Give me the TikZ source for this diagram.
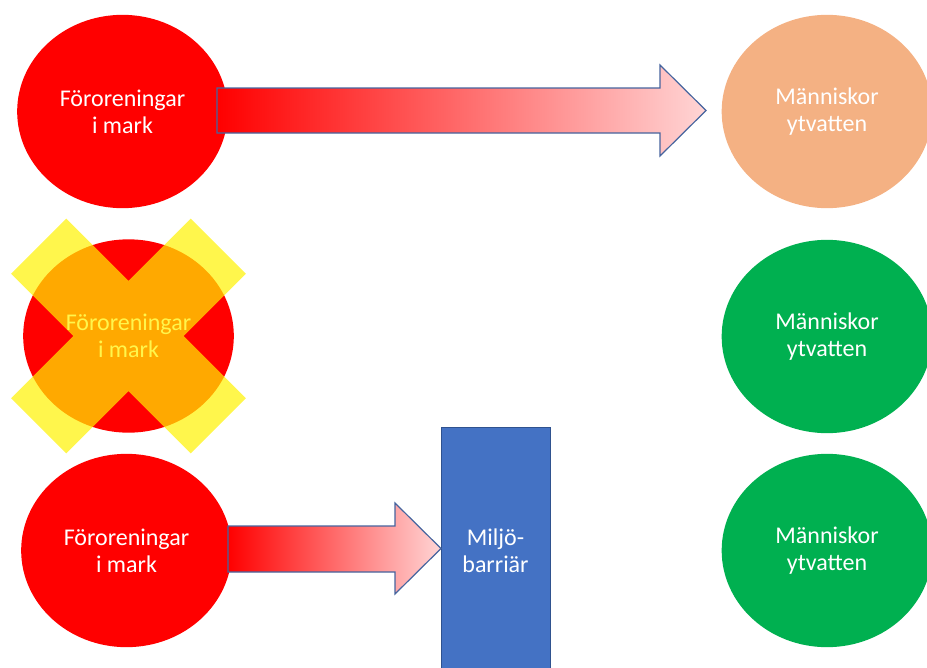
\documentclass[tikz,border=0pt]{standalone}
\usepackage{fontspec}
\setmainfont{Carlito}
\usetikzlibrary{shapes.geometric}
\definecolor{pptred}{RGB}{255,0,0}
\definecolor{pptorange}{RGB}{244,177,131}
\definecolor{pptgreen}{RGB}{0,176,80}
\definecolor{pptblue}{RGB}{68,114,196}
\definecolor{pptblueline}{RGB}{47,82,143}
\definecolor{arrowline}{RGB}{70,100,158}
\definecolor{palepink}{RGB}{255,213,213}
\begin{document}
\begin{tikzpicture}[x=0.75pt,y=-0.75pt,
  blob/.style={ellipse, minimum width=158pt, minimum height=145pt, inner sep=0pt,
    text=white, align=center, font=\fontsize{18}{20.5}\selectfont},
  blockarrow/.style={draw=arrowline, line width=0.9pt, line join=miter,
    left color=pptred, right color=palepink},
  barrier/.style={rectangle, fill=pptblue, draw=pptblueline, line width=0.6pt,
    minimum width=81.75pt, minimum height=186pt, inner sep=0pt,
    text=white, align=center, font=\fontsize{18}{20.5}\selectfont},
  crossmark/.style={fill=yellow, fill opacity=0.7, draw=none}]
\useasboundingbox (0,0) rectangle (927,667);
\clip (0,0) rectangle (927,667);
% left column
\node[blob, fill=pptred] (src1) at (122.5,111.5) {Föroreningar\\i mark};
\node[blob, fill=pptred] (src2) at (128.5,336) {Föroreningar\\i mark};
\node[blob, fill=pptred] (src3) at (126.5,550.5) {Föroreningar\\i mark};
% right column
\node[blob, fill=pptorange] (dst1) at (827,111.5) {Människor\\ytvatten};
\node[blob, fill=pptgreen] (dst2) at (827,336.5) {Människor\\ytvatten};
\node[blob, fill=pptgreen] (dst3) at (827,550.5) {Människor\\ytvatten};
% barrier
\node[barrier] (bar) at (495.5,551) {Miljö-\\barriär};
% top block arrow
\path[blockarrow] (217,88) -- (660,88) -- (660,65) -- (706,110.5) -- (660,156)
  -- (660,133) -- (217,133) -- cycle;
% bottom block arrow
\path[blockarrow] (228,526) -- (395,526) -- (395,503) -- (441,548.5) -- (395,594)
  -- (395,572) -- (228,572) -- cycle;
% cross over the middle source
\fill[crossmark] (11.1,273.8) -- (66.3,218.6) -- (128.5,280.8) -- (190.7,218.6)
  -- (245.9,273.8) -- (183.7,336) -- (245.9,398.2) -- (190.7,453.4)
  -- (128.5,391.2) -- (66.3,453.4) -- (11.1,398.2) -- (73.3,336) -- cycle;
\end{tikzpicture}
\end{document}
